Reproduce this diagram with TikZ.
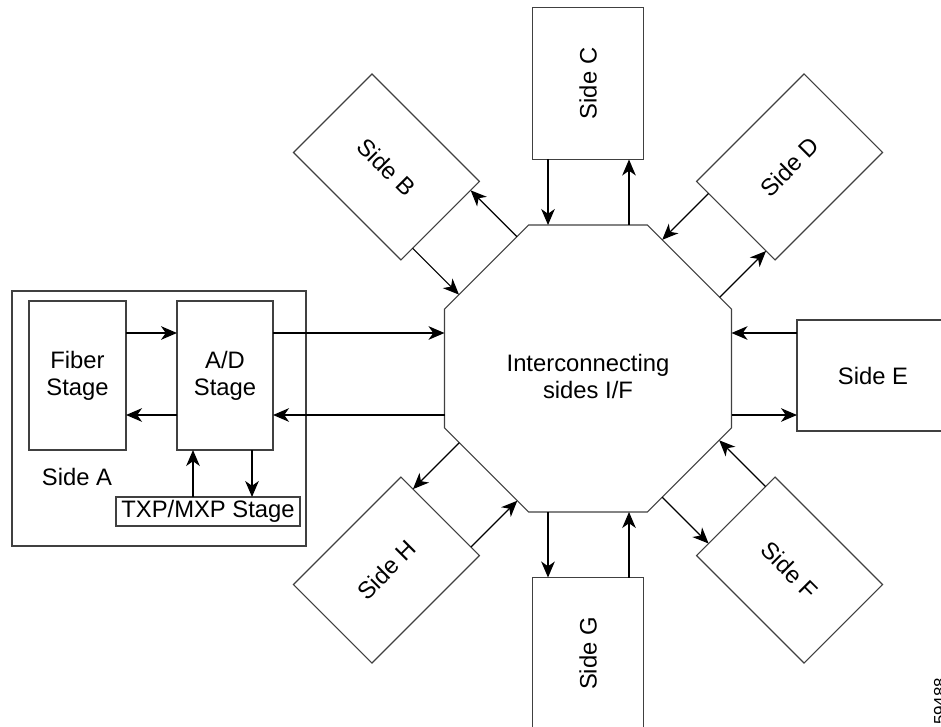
\documentclass[tikz,border=0pt]{standalone}
\usepackage{fontspec}
\setmainfont{Liberation Sans}
\usetikzlibrary{shapes.geometric,calc,arrows.meta}
\begin{document}
\begin{tikzpicture}[x=0.5pt,y=0.5pt,
  txt/.style={font=\fontsize{11.9}{13.5}\selectfont, align=center},
  box/.style={txt, draw=black!75, line width=0.55pt, inner sep=0pt, outer sep=0pt},
  sidebox/.style={box, minimum width=76pt, minimum height=55.5pt},
  lbl/.style={txt, inner sep=0pt},
  arr/.style={draw=black, line width=0.6pt, -{Stealth[length=8pt,width=6.8pt,inset=2.4pt]}}]
\useasboundingbox (0,0) rectangle (941,-727);

% central octagon
\node[regular polygon, regular polygon sides=8, draw=black!75, line width=0.55pt,
      minimum size=155.3pt, inner sep=0pt, outer sep=0pt] (ic) at (588,-368.5) {};
\node[lbl] (ictext) at (588,-376) {Interconnecting\\sides I/F};

% side boxes
\node[sidebox, rotate=90]  (C) at ($(ic.center)+(90:285)$)  {Side C};
\node[sidebox, rotate=45]  (D) at ($(ic.center)+(45:285)$)  {Side D};
\node[sidebox, rotate=-45] (B) at ($(ic.center)+(135:285)$) {Side B};
\node[sidebox, rotate=45]  (H) at ($(ic.center)+(225:285)$) {Side H};
\node[sidebox, rotate=-45] (F) at ($(ic.center)+(315:285)$) {Side F};
\node[sidebox, rotate=90]  (G) at ($(ic.center)+(270:285)$) {Side G};
\node[sidebox] (E) at (873,-375.5) {Side E};

\foreach \n/\a/\si/\so in {C/90/40/-41, D/45/38.5/-42.8, B/135/39/-43, H/225/43.5/-38.5, F/315/42/-38.5, G/270/41/-40}{
  \pgfmathsetmacro\b{\a+90}
  \draw[arr] ($(\n.center)+(\a:-76)+(\b:\si)$) -- ($(ic.center)+(\a:143.5)+(\b:\si)$);
  \draw[arr] ($(ic.center)+(\a:143.5)+(\b:\so)$) -- ($(\n.center)+(\a:-76)+(\b:\so)$);
}

% Side E arrows
\draw[arr] ([yshift=-6.5pt]E.north west) -- ([yshift=-6.5pt]E.north west -| ic.east);
\draw[arr] ([yshift=8pt]E.south west -| ic.east) -- ([yshift=8pt]E.south west);

% Side A
\node[box, minimum width=147pt, minimum height=127.5pt] (Abox) at (159,-418.5) {};
\node[box, minimum width=48.5pt, minimum height=74.5pt] (Fiber) at (77.5,-375.5) {Fiber\\Stage};
\node[box, minimum width=48pt, minimum height=74.5pt] (AD) at (225,-375.5) {A/D\\Stage};
\node[box, minimum width=92pt, minimum height=14.5pt] (TXP) at (208,-511.5) {TXP/MXP Stage};
\node[lbl] (sideA) at (77,-477) {Side A};

\draw[arr] ([yshift=-16pt]Fiber.north east) -- ([yshift=-16pt]Fiber.north east -| AD.west);
\draw[arr] ([yshift=17.5pt]AD.south west) -- ([yshift=17.5pt]AD.south west -| Fiber.east);
\draw[arr] ([yshift=-16pt]AD.north east) -- ([yshift=-16pt]AD.north east -| ic.west);
\draw[arr] ([yshift=17.5pt]AD.south east -| ic.west) -- ([yshift=17.5pt]AD.south east);
\draw[arr] ([xshift=8pt]AD.south west |- TXP.north) -- ([xshift=8pt]AD.south west);
\draw[arr] ([xshift=-10.5pt]AD.south east) -- ([xshift=-10.5pt]AD.south east |- TXP.north);

\node[font=\fontsize{8.5}{9}\selectfont, rotate=90, inner sep=0pt] (id) at (940,-706) {159488};
\end{tikzpicture}
\end{document}
